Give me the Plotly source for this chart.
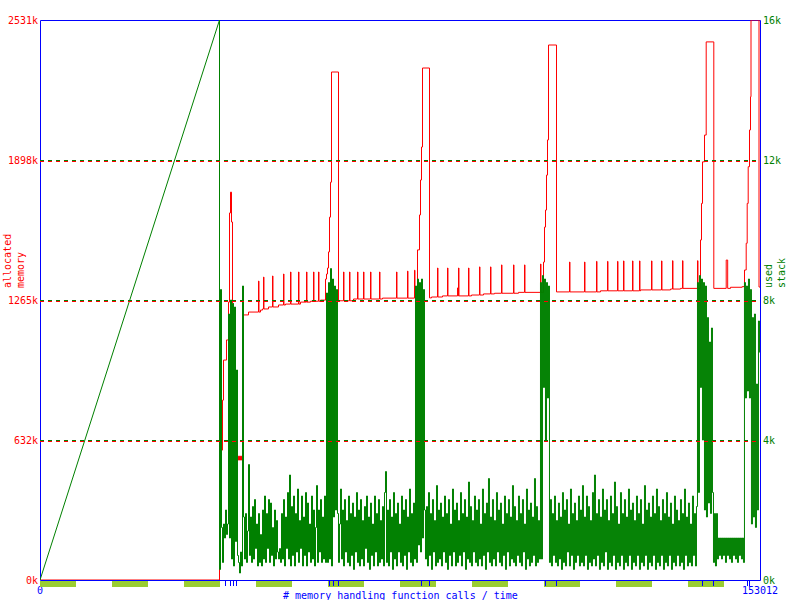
import numpy as np
import plotly.graph_objects as go

# ---------------- data ----------------
X_MAX = 153012          # number of memory handling function calls
MEM_MAX = 2531          # k
STACK_MAX = 16          # k

mem_ticks = [0, 632.75, 1265.5, 1898.25, 2531]
mem_tick_text = ["0k", "632k", "1265k", "1898k", "2531k"]
stack_ticks = [0, 4, 8, 12, 16]
stack_tick_text = ["0k", "4k", "8k", "12k", "16k"]
x_ticks = [0, 153012]
x_tick_text = ["0", "153012"]

# allocated memory (k), step line
mem_calls = [0, 38147, 38572, 38785, 38997, 39635, 40060, 40272, 40485, 40697, 40910, 41123,
             41548, 41760, 41973, 42185, 42398, 42610, 42823, 43035, 43248, 44310, 46435, 46536,
             46860, 47285, 47498, 47598, 48561, 49411, 49511, 50686, 51748, 51848, 52173, 53236,
             53336, 54936, 55036, 55361, 56636, 56736, 57486, 58124, 58224, 59186, 59286, 59612,
             60674, 60886, 61099, 61312, 61524, 61737, 61949, 63436, 64499, 64599, 65774, 65874,
             66627, 67475, 67575, 68750, 68850, 70238, 70338, 72150, 72250, 72788, 75763, 75863,
             78101, 78201, 79589, 79689, 80226, 80651, 80863, 81076, 81288, 82776, 83201, 84476,
             84576, 85539, 86601, 86701, 88726, 88826, 88939, 89039, 91064, 91164, 91702, 93402,
             93502, 94252, 95740, 95840, 96590, 98078, 98178, 100628, 100728, 101691, 102966,
             103066, 106366, 106466, 107004, 107216, 107429, 107641, 107854, 108066, 109766,
             112529, 112629, 115717, 115817, 118267, 118367, 119117, 120605, 120705, 122730,
             122830, 124005, 124105, 125918, 126018, 127405, 127505, 127618, 129956, 130056,
             132079, 132179, 133993, 134418, 134518, 136118, 136543, 136643, 139730, 139830,
             140368, 140580, 140793, 141218, 141579, 143193, 145830, 146143, 146743, 149228,
             149717, 150079, 150291, 150504, 150780, 150993, 151099, 152799, 153012]
mem_k = [0, 316, 587, 813, 994, 1085, 1256, 1659, 1753, 1618, 1250, 900,
         560, 542, 560, 542, 560, 542, 560, 551, 1198, 1211, 1351, 1211,
         1220, 1225, 1369, 1225, 1234, 1374, 1234, 1243, 1383, 1243, 1247, 1392,
         1247, 1392, 1247, 1256, 1392, 1256, 1260, 1392, 1260, 1392, 1260, 1265,
         1360, 1383, 1410, 1483, 1640, 1798, 2296, 1262, 1392, 1262, 1392, 1262,
         1270, 1392, 1270, 1392, 1270, 1392, 1270, 1392, 1270, 1274, 1392, 1274,
         1396, 1274, 1400, 1274, 1492, 1650, 1808, 1957, 2314, 1275, 1279, 1410,
         1279, 1284, 1410, 1284, 1320, 1284, 1410, 1284, 1410, 1284, 1288, 1415,
         1288, 1293, 1415, 1293, 1296, 1424, 1296, 1424, 1296, 1300, 1424,
         1300, 1428, 1300, 1437, 1595, 1672, 1830, 1989, 2418, 1302,
         1437, 1302, 1437, 1302, 1440, 1302, 1307, 1440, 1307, 1440,
         1307, 1442, 1307, 1442, 1307, 1442, 1307, 1311, 1442, 1311,
         1442, 1311, 1315, 1443, 1315, 1318, 1443, 1318, 1443, 1318,
         1537, 1702, 1890, 2011, 2432, 1318, 1446, 1318, 1323, 1326,
         1401, 1522, 1702, 1868, 2034, 2184, 2531, 1324, 1324]

# used stack (k): initial ramp, then sampled trace
stack_ramp_calls = [0, 38147]
stack_ramp_k = [0, 16]
stack_drop_k = 0.3
stack_first_call = 38360
stack_last_call = 152898
stack_k = [
    8.3, 1.5, 0.5, 1.6, 1.2, 2.0, 1.3, 1.6, 7.6, 1.2, 8.0, 0.6, 7.9, 0.4, 7.8, 1.1, 6.0, 0.7, 0.5, 0.2,
    0.8, 0.4, 8.4, 1.8, 0.6, 1.9, 0.5, 1.4, 3.3, 0.7, 1.8, 0.5, 2.1, 0.6, 2.3, 0.9, 1.6, 0.4, 1.9, 0.5,
    1.3, 0.4, 2.0, 0.6, 2.4, 0.5, 1.9, 0.9, 2.3, 0.5, 2.2, 0.7, 1.5, 0.4, 2.0, 0.6, 1.7, 0.8, 0.6, 0.9,
    0.5, 1.9, 0.6, 2.3, 0.4, 1.8, 0.9, 2.5, 0.6, 3.0, 0.4, 2.1, 0.7, 2.4, 0.4, 1.9, 0.8, 2.6, 0.5, 1.7,
    0.9, 2.4, 0.4, 1.8, 0.7, 2.5, 0.4, 2.2, 0.8, 1.6, 0.5, 2.4, 0.6, 2.0, 0.4, 1.5, 2.7, 0.5, 2.0, 0.8,
    2.3, 0.5, 1.8, 0.6, 2.4, 0.5, 8.2, 0.5, 8.5, 0.6, 8.9, 0.4, 8.6, 1.8, 8.4, 2.0, 8.3, 1.9, 0.5, 1.6,
    2.6, 0.6, 2.0, 0.4, 2.3, 0.8, 1.7, 0.5, 2.4, 0.4, 1.9, 0.7, 2.2, 0.3, 1.8, 0.8, 2.5, 0.5, 2.0, 0.4,
    2.3, 0.6, 1.7, 0.4, 2.1, 0.9, 2.4, 0.5, 1.8, 0.3, 2.2, 0.7, 1.6, 0.4, 2.4, 0.8, 1.9, 0.4, 2.3, 0.5,
    1.7, 0.6, 2.1, 0.4, 2.5, 3.1, 0.5, 2.0, 0.4, 2.3, 0.8, 1.8, 0.3, 2.5, 0.6, 1.9, 0.4, 2.2, 0.8, 1.6,
    0.5, 2.4, 0.4, 2.0, 0.7, 2.3, 0.3, 1.8, 0.8, 2.6, 0.5, 1.9, 0.4, 2.2, 0.6, 8.4, 0.5, 8.6, 1.0, 8.5,
    0.8, 8.6, 1.2, 8.3, 2.0, 0.6, 2.1, 0.4, 2.5, 0.7, 1.9, 0.3, 2.3, 0.8, 1.7, 0.4, 2.7, 0.5, 2.0, 0.6,
    2.2, 0.4, 1.8, 0.8, 2.4, 0.5, 1.9, 0.3, 2.3, 0.7, 1.6, 0.4, 2.6, 0.8, 2.0, 0.4, 2.2, 0.5, 1.7, 0.7,
    2.5, 0.4, 1.9, 0.8, 2.3, 0.3, 1.8, 0.6, 2.8, 0.5, 2.1, 0.4, 1.7, 0.8, 2.4, 0.5, 2.0, 0.4, 2.3, 0.6,
    1.6, 0.4, 2.6, 0.7, 1.9, 0.3, 2.2, 0.8, 2.9, 0.5, 1.8, 0.4, 2.3, 0.6, 1.7, 0.4, 2.5, 0.8, 2.0, 0.5,
    2.2, 0.4, 1.6, 0.7, 2.4, 0.3, 1.9, 0.8, 2.3, 0.4, 1.8, 0.6, 2.7, 0.5, 2.1, 0.4, 1.7, 0.7, 2.4, 0.5,
    1.9, 0.4, 2.3, 0.8, 1.6, 0.3, 2.6, 0.6, 2.0, 0.4, 2.2, 0.5, 1.8, 0.7, 2.9, 0.4, 2.1, 0.5, 1.7, 0.6,
    8.5, 0.6, 8.7, 5.5, 8.6, 4.0, 8.5, 5.2, 8.4, 0.5, 2.3, 0.4, 1.9, 0.7, 2.4, 0.5, 1.7, 0.4, 2.2, 0.6,
    1.8, 0.3, 2.5, 0.5, 2.0, 0.4, 2.3, 0.8, 1.6, 0.4, 2.6, 0.7, 1.9, 0.3, 2.2, 0.5, 1.7, 0.7, 2.4, 0.4,
    2.0, 0.5, 2.7, 0.4, 1.8, 0.7, 2.4, 0.3, 2.1, 0.5, 1.7, 0.4, 2.5, 0.6, 3.0, 0.4, 1.9, 0.7, 2.3, 0.3,
    1.8, 0.5, 2.6, 0.4, 2.0, 0.8, 2.3, 0.3, 1.7, 0.5, 2.4, 0.4, 1.9, 0.7, 2.8, 0.3, 2.1, 0.5, 1.6, 0.4,
    2.5, 0.7, 1.9, 0.3, 2.3, 0.5, 1.8, 0.4, 2.6, 0.7, 2.0, 0.3, 2.2, 0.5, 1.7, 0.4, 2.4, 0.7, 1.9, 0.3,
    2.3, 0.5, 1.6, 0.4, 2.7, 0.7, 2.0, 0.3, 2.2, 0.5, 1.8, 0.4, 2.4, 0.7, 1.9, 0.3, 2.6, 0.5, 2.1, 0.4,
    1.7, 0.7, 2.3, 0.3, 1.9, 0.5, 2.5, 0.4, 1.8, 0.7, 2.2, 0.3, 1.6, 0.5, 2.4, 0.4, 2.0, 0.7, 1.7, 0.4,
    2.3, 0.5, 1.9, 0.3, 2.6, 0.7, 1.8, 0.4, 2.2, 0.5, 1.6, 0.4, 2.4, 0.7, 1.9, 0.4, 2.1, 8.5, 2.5, 8.7,
    5.5, 8.6, 4.0, 8.5, 2.0, 8.4, 1.8, 7.5, 2.2, 6.8, 1.9, 7.2, 2.5, 0.5, 1.9, 0.4, 1.9, 0.6, 1.2, 0.7,
    1.2, 0.6, 1.2, 0.7, 1.2, 0.5, 1.2, 0.7, 1.2, 0.6, 1.2, 0.5, 1.2, 0.7, 1.2, 0.6, 1.2, 0.5, 1.2, 0.7,
    1.2, 0.6, 1.2, 0.5, 8.5, 5.2, 8.4, 5.4, 8.6, 5.2, 8.3, 1.6, 7.5, 1.8, 7.6, 1.5, 5.6, 2.0, 7.4, 6.5,
]

# event markers below the time axis (call numbers)
event_calls = [39422, 40485, 41123, 41760, 61524, 62374, 63436, 81076, 82776,
               107429, 109766, 140793, 143130, 150355, 150780]

# ---------------- figure ----------------
RED = "#ff0000"
GREEN = "#008000"
BLUE = "#0000ff"
BAND = "#9acd32"
FONT = "DejaVu Sans Mono"

PLOT_W, PLOT_H = 720, 560
hx = 0.5 / PLOT_W   # half a pixel in paper units
hy = 0.5 / PLOT_H

stack_calls = np.linspace(stack_first_call, stack_last_call, len(stack_k))

fig = go.Figure()
fig.add_trace(go.Scatter(x=stack_ramp_calls, y=stack_ramp_k, mode="lines", yaxis="y2",
                         line=dict(color=GREEN, width=1), hoverinfo="skip"))
fig.add_trace(go.Scatter(x=[stack_ramp_calls[-1], stack_ramp_calls[-1]] + list(stack_calls),
                         y=[stack_ramp_k[-1], stack_drop_k] + list(stack_k),
                         mode="lines", yaxis="y2", line=dict(color=GREEN, width=1, shape="hv"),
                         hoverinfo="skip"))
fig.add_trace(go.Scatter(x=mem_calls, y=mem_k, mode="lines", yaxis="y",
                         line=dict(color=RED, width=1, shape="hv"), hoverinfo="skip"))

shapes = []
# blue frame round the plot area (below the traces), on pixel centres
shapes.append(dict(type="rect", xref="paper", yref="paper", x0=hx, x1=1 + hx, y0=-hy, y1=1 - hy,
                   line=dict(color=BLUE, width=1), fillcolor="rgba(0,0,0,0)", layer="below"))
# two-coloured dashed grid: green row on the tick, red row just beneath it
px_mem = MEM_MAX / PLOT_H
for v in mem_ticks[1:-1]:
    shapes.append(dict(type="line", xref="paper", yref="y", x0=0, x1=1,
                       y0=v - 1.5 * px_mem, y1=v - 1.5 * px_mem,
                       line=dict(color=RED, width=1, dash="4px,4px"), layer="above"))
    shapes.append(dict(type="line", xref="paper", yref="y", x0=0, x1=1,
                       y0=v - 0.5 * px_mem, y1=v - 0.5 * px_mem,
                       line=dict(color=GREEN, width=1, dash="4px,4px"), layer="above"))

# alternating bands below the axis
nb = 20
w = X_MAX / nb
for i in range(0, nb, 2):
    shapes.append(dict(type="rect", xref="x", yref="paper", x0=i * w, x1=(i + 1) * w,
                       y0=-7 / PLOT_H, y1=-1 / PLOT_H, fillcolor=BAND, line=dict(width=0),
                       layer="above"))
for c in event_calls:
    shapes.append(dict(type="line", xref="x", yref="paper", x0=c, x1=c,
                       y0=-6 / PLOT_H, y1=-1 / PLOT_H, line=dict(color=BLUE, width=1),
                       layer="above"))

annotations = [
    dict(text="# memory handling function calls / time", xref="paper", yref="paper",
         x=0.5, y=-15 / PLOT_H, xanchor="center", yanchor="middle", showarrow=False,
         font=dict(family=FONT, size=10, color=BLUE)),
    dict(text="allocated<br>memory", xref="paper", yref="paper", x=-26 / PLOT_W, y=290 / PLOT_H,
         xanchor="center", yanchor="bottom", textangle=-90, align="left", showarrow=False,
         font=dict(family=FONT, size=10, color=RED)),
    dict(text="used<br>stack", xref="paper", yref="paper", x=1 + 15 / PLOT_W, y=290 / PLOT_H,
         xanchor="center", yanchor="bottom", textangle=-90, align="left", showarrow=False,
         font=dict(family=FONT, size=10, color=GREEN)),
]

fig.update_layout(
    width=800, height=600,
    margin=dict(l=40, r=40, t=20, b=20, autoexpand=False),
    paper_bgcolor="white", plot_bgcolor="white",
    showlegend=False,
    font=dict(family=FONT, size=10),
    xaxis=dict(range=[0, X_MAX], tickvals=x_ticks, ticktext=x_tick_text, showgrid=False,
               zeroline=False, showline=False, automargin=False,
               ticks="", ticklabelstandoff=3, tickfont=dict(family=FONT, size=10, color=BLUE)),
    yaxis=dict(range=[0, MEM_MAX], tickvals=mem_ticks, ticktext=mem_tick_text, showgrid=False,
               zeroline=False, showline=False, automargin=False,
               ticks="", ticklabelstandoff=1, tickfont=dict(family=FONT, size=10, color=RED)),
    yaxis2=dict(range=[0, STACK_MAX], tickvals=stack_ticks, ticktext=stack_tick_text,
                overlaying="y", side="right", showgrid=False, zeroline=False, showline=False,
                automargin=False,
                ticks="", ticklabelstandoff=2, tickfont=dict(family=FONT, size=10, color=GREEN)),
    shapes=shapes,
    annotations=annotations,
)

fig.write_html("out.html", config={"displayModeBar": False},
               post_script="document.body.style.margin='0';document.body.style.overflow='hidden';")
